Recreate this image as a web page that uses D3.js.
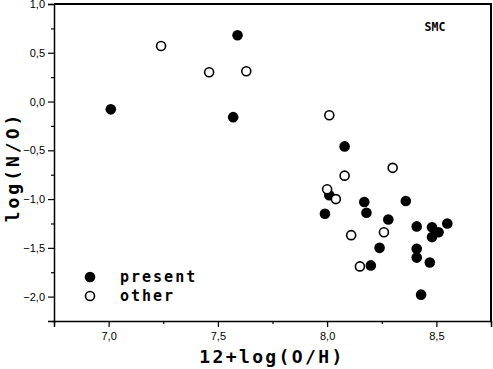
<!DOCTYPE html>
<html>
<head>
<meta charset="utf-8">
<script src="https://cdn.jsdelivr.net/npm/d3@7"></script>
<style>
  body { margin: 0; background: #fff; }
  svg { display: block; }
</style>
</head>
<body>
<div id="chart"></div>
<script>
// data: 12+log(O/H) vs log(N/O)
const present_x = [7.01, 7.59, 7.57, 8.08, 8.01, 7.99, 8.17, 8.18, 8.36, 8.28, 8.41, 8.48, 8.55, 8.51, 8.48, 8.24, 8.41, 8.41, 8.47, 8.20, 8.43];
const present_y = [-0.08, 0.68, -0.16, -0.46, -0.96, -1.15, -1.03, -1.14, -1.02, -1.21, -1.28, -1.29, -1.25, -1.34, -1.39, -1.50, -1.51, -1.60, -1.65, -1.68, -1.98];
const other_x = [7.24, 7.46, 7.63, 8.01, 8.30, 8.08, 8.00, 8.04, 8.26, 8.11, 8.15];
const other_y = [0.57, 0.30, 0.31, -0.14, -0.68, -0.76, -0.90, -1.00, -1.34, -1.37, -1.69];
const x_ticks = [7.0, 7.5, 8.0, 8.5];
const y_ticks = [1.0, 0.5, 0.0, -0.5, -1.0, -1.5, -2.0];
const legend_names = ["present", "other"];

const width = 493, height = 369;
const m_left = 54, m_right = 491, m_top = 4, m_bottom = 321;

let svg = d3.select("#chart").append("svg")
    .attr("width", width)
    .attr("height", height);

let x = d3.scaleLinear().domain([6.75, 8.75]).range([m_left, m_right]);
let y = d3.scaleLinear().domain([-2.25, 1.0]).range([m_bottom, m_top]);

let fmt = function(d) { return d3.format(".1f")(d).replace(".", ","); };

// frame (top + right, no ticks)
svg.append("path")
    .attr("d", "M" + m_left + "," + m_top + "H" + m_right + "V" + m_bottom)
    .attr("fill", "none")
    .attr("stroke", "#000")
    .attr("stroke-width", 2);

// x axis
svg.append("g")
    .attr("transform", "translate(0," + m_bottom + ")")
    .call(d3.axisBottom(x).tickValues(x_ticks).tickFormat(fmt).tickSize(6).tickPadding(5));
svg.append("g")
    .attr("transform", "translate(0," + m_bottom + ")")
    .call(d3.axisBottom(x).tickValues([6.75, 7.25, 7.75, 8.25, 8.75]).tickFormat("").tickSize(3))
    .select(".domain").remove();

// y axis
svg.append("g")
    .attr("transform", "translate(" + m_left + ",0)")
    .call(d3.axisLeft(y).tickValues(y_ticks).tickFormat(fmt).tickSize(6).tickPadding(3));
svg.append("g")
    .attr("transform", "translate(" + m_left + ",0)")
    .call(d3.axisLeft(y).tickValues([0.75, 0.25, -0.25, -0.75, -1.25, -1.75, -2.25]).tickFormat("").tickSize(3))
    .select(".domain").remove();

svg.selectAll(".domain").attr("stroke-width", 1.5);
svg.selectAll(".tick line").attr("stroke-width", 1.2);
svg.selectAll(".tick text")
    .attr("font-family", "Liberation Sans, Arial, sans-serif")
    .attr("font-size", 11)
    .attr("fill", "#000");

// axis titles
svg.append("text")
    .attr("x", 272)
    .attr("y", 363)
    .attr("text-anchor", "middle")
    .attr("font-family", "DejaVu Sans Mono, monospace")
    .attr("font-weight", "bold")
    .attr("font-size", 18)
    .attr("letter-spacing", 2.4)
    .text("12+log(O/H)");

svg.append("text")
    .attr("transform", "translate(19,167) rotate(-90)")
    .attr("text-anchor", "middle")
    .attr("font-family", "DejaVu Sans Mono, monospace")
    .attr("font-weight", "bold")
    .attr("font-size", 18)
    .attr("letter-spacing", 3)
    .text("log(N/O)");

svg.append("text")
    .attr("x", 435)
    .attr("y", 31)
    .attr("text-anchor", "middle")
    .attr("font-family", "DejaVu Sans Mono, monospace")
    .attr("font-weight", "bold")
    .attr("font-size", 11.5)
    .text("SMC");

// points
let present = present_x.map(function(d, i) { return [d, present_y[i]]; });
let other = other_x.map(function(d, i) { return [d, other_y[i]]; });

svg.selectAll(".present").data(present).enter()
    .append("circle")
    .attr("class", "present")
    .attr("cx", function(d) { return x(d[0]); })
    .attr("cy", function(d) { return y(d[1]); })
    .attr("r", 5.3)
    .attr("fill", "#000");

svg.selectAll(".other").data(other).enter()
    .append("circle")
    .attr("class", "other")
    .attr("cx", function(d) { return x(d[0]); })
    .attr("cy", function(d) { return y(d[1]); })
    .attr("r", 4.5)
    .attr("fill", "#fff")
    .attr("stroke", "#000")
    .attr("stroke-width", 1.6);

// legend
let legend = svg.selectAll(".legend").data(legend_names).enter()
    .append("g")
    .attr("class", "legend")
    .attr("transform", function(d, i) { return "translate(90," + (277 + i * 19) + ")"; });

legend.append("circle")
    .attr("r", function(d, i) { return i == 0 ? 5.3 : 4.5; })
    .attr("fill", function(d, i) { return i == 0 ? "#000" : "#fff"; })
    .attr("stroke", "#000")
    .attr("stroke-width", function(d, i) { return i == 0 ? 0 : 1.6; });

legend.append("text")
    .attr("x", 30)
    .attr("y", 5)
    .attr("font-family", "DejaVu Sans Mono, monospace")
    .attr("font-weight", "bold")
    .attr("font-size", 15)
    .attr("letter-spacing", 2)
    .text(function(d) { return d; });
</script>
</body>
</html>
